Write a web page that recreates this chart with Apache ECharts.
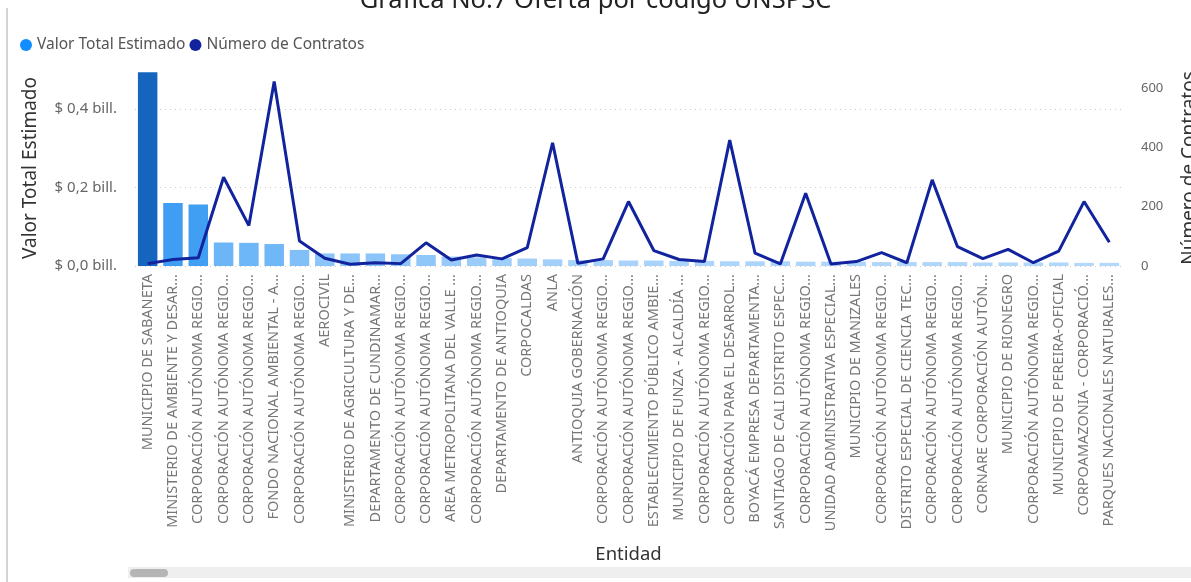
<!DOCTYPE html>
<html>
<head>
<meta charset="utf-8">
<script src="https://cdn.jsdelivr.net/npm/echarts@6/dist/echarts.min.js"></script>
<style>
html,body{margin:0;padding:0;background:#fff;}
#chart{width:1191px;height:582px;}
</style>
</head>
<body>
<div id="chart"></div>
<script>
const categories = [
  'MUNICIPIO DE SABANETA',
  'MINISTERIO DE AMBIENTE Y DESAR...',
  'CORPORACIÓN AUTÓNOMA REGIO...',
  'CORPORACIÓN AUTÓNOMA REGIO...',
  'CORPORACIÓN AUTÓNOMA REGIO...',
  'FONDO NACIONAL AMBIENTAL - A...',
  'CORPORACIÓN AUTÓNOMA REGIO...',
  'AEROCIVIL',
  'MINISTERIO DE AGRICULTURA Y DE...',
  'DEPARTAMENTO DE CUNDINAMAR...',
  'CORPORACIÓN AUTÓNOMA REGIO...',
  'CORPORACIÓN AUTÓNOMA REGIO...',
  'AREA METROPOLITANA DEL VALLE ...',
  'CORPORACIÓN AUTÓNOMA REGIO...',
  'DEPARTAMENTO DE ANTIOQUIA',
  'CORPOCALDAS',
  'ANLA',
  'ANTIOQUIA GOBERNACIÓN',
  'CORPORACIÓN AUTÓNOMA REGIO...',
  'CORPORACIÓN AUTÓNOMA REGIO...',
  'ESTABLECIMIENTO PÚBLICO AMBIE...',
  'MUNICIPIO DE FUNZA - ALCALDÍA ...',
  'CORPORACIÓN AUTÓNOMA REGIO...',
  'CORPORACIÓN PARA EL DESARROL...',
  'BOYACÁ EMPRESA DEPARTAMENTA...',
  'SANTIAGO DE CALI DISTRITO ESPEC...',
  'CORPORACIÓN AUTÓNOMA REGIO...',
  'UNIDAD ADMINISTRATIVA ESPECIAL...',
  'MUNICIPIO DE MANIZALES',
  'CORPORACIÓN AUTÓNOMA REGIO...',
  'DISTRITO ESPECIAL DE CIENCIA TEC...',
  'CORPORACIÓN AUTÓNOMA REGIO...',
  'CORPORACIÓN AUTÓNOMA REGIO...',
  'CORNARE CORPORACIÓN AUTÓN...',
  'MUNICIPIO DE RIONEGRO',
  'CORPORACIÓN AUTÓNOMA REGIO...',
  'MUNICIPIO DE PEREIRA-OFICIAL',
  'CORPOAMAZONIA - CORPORACIÓ...',
  'PARQUES NACIONALES NATURALES...'
];

// Valor Total Estimado (billones de pesos)
const valorTotal = [
  0.494, 0.161, 0.157, 0.060, 0.059, 0.056, 0.041, 0.032, 0.032, 0.032,
  0.030, 0.028, 0.024, 0.022, 0.020, 0.019, 0.017, 0.015, 0.015, 0.014,
  0.014, 0.013, 0.013, 0.012, 0.012, 0.012, 0.011, 0.011, 0.011, 0.010,
  0.010, 0.010, 0.010, 0.009, 0.009, 0.009, 0.009, 0.008, 0.008
];

// Número de Contratos
const numContratos = [
  8, 22, 28, 299, 136, 621, 84, 26, 6, 11,
  8, 78, 20, 37, 24, 62, 415, 9, 24, 217,
  52, 22, 15, 424, 43, 7, 245, 7, 15, 45,
  11, 290, 65, 25, 56, 11, 50, 217, 80
];

const leftTicks = [0, 0.2, 0.4];
const rightTicks = [0, 200, 400, 600];

const FONT = 'Noto Sans';

function hexToRgb(h){h=h.replace('#','');return [parseInt(h.substr(0,2),16),parseInt(h.substr(2,2),16),parseInt(h.substr(4,2),16)];}
const colorStops = [[0.008,'#B3D8FB'],[0.03,'#8DC5F9'],[0.06,'#6CB5F7'],[0.16,'#3F9EF3'],[0.494,'#1565BF']];
function barColor(v){
  if (v <= colorStops[0][0]) return colorStops[0][1];
  for (let i=1;i<colorStops.length;i++){
    if (v <= colorStops[i][0]){
      const [v0,c0]=colorStops[i-1],[v1,c1]=colorStops[i];
      const t=(v-v0)/(v1-v0);
      const a=hexToRgb(c0),b=hexToRgb(c1);
      return 'rgb('+a.map((x,k)=>Math.round(x+(b[k]-x)*t)).join(',')+')';
    }
  }
  return colorStops[colorStops.length-1][1];
}

const chart = echarts.init(document.getElementById('chart'));
chart.setOption({
  animation:false,
  backgroundColor:'#fff',
  textStyle:{fontFamily:FONT},
  title:{
    text:'Gráfica No.7 Oferta por código UNSPSC',
    left:'center', top:-17,
    textStyle:{fontFamily:FONT,fontSize:25.5,fontWeight:'normal',color:'#222'}
  },
  legend:{
    left:15, top:32,
    icon:'circle', itemWidth:12, itemHeight:12, itemGap:4,
    textStyle:{fontFamily:FONT,fontSize:15.5,color:'#555'},
    data:[
      {name:'Valor Total Estimado', itemStyle:{color:'#118DFF'}},
      {name:'Número de Contratos', itemStyle:{color:'#12239E'}}
    ]
  },
  grid:{left:135,right:69,top:70,bottom:316,containLabel:false,outerBoundsMode:'none'},
  xAxis:{
    type:'category',
    data:categories,
    name:'Entidad',
    nameLocation:'middle',
    nameGap:279,
    nameTextStyle:{fontFamily:FONT,fontSize:18.5,color:'#333'},
    axisLine:{show:false},
    axisTick:{show:false},
    axisLabel:{rotate:90,interval:0,fontSize:14.5,color:'#777',margin:8,fontFamily:FONT}
  },
  yAxis:[
    {
      type:'value', min:0, max:0.5, interval:0.2,
      name:'Valor Total Estimado',
      nameLocation:'middle', nameRotate:90, nameGap:95,
      nameTextStyle:{fontFamily:FONT,fontSize:19,color:'#333'},
      axisLine:{show:false}, axisTick:{show:false},
      axisLabel:{
        margin:18, fontSize:15, color:'#666', showMaxLabel:false,
        formatter:v=>leftTicks.some(t=>Math.abs(t-v)<1e-9)?('$ '+v.toFixed(1).replace('.',',')+' bill.'):''
      },
      splitLine:{show:true,showMaxLine:false,lineStyle:{type:[1,4],color:'#ccc',width:1}}
    },
    {
      type:'value', min:0, max:660, interval:200,
      name:'Número de Contratos',
      nameLocation:'middle', nameRotate:90, nameGap:58,
      nameTextStyle:{fontFamily:FONT,fontSize:19,color:'#333'},
      axisLine:{show:false}, axisTick:{show:false},
      axisLabel:{
        margin:19, fontSize:13, color:'#666', showMaxLabel:false,
        formatter:v=>rightTicks.indexOf(v)>=0?String(v):''
      },
      splitLine:{show:false}
    }
  ],
  series:[
    {
      name:'Valor Total Estimado',
      type:'bar',
      yAxisIndex:0,
      barCategoryGap:'23%',
      data:valorTotal.map(v=>({value:v,itemStyle:{color:barColor(v)}})),
      itemStyle:{color:'#118DFF'}
    },
    {
      name:'Número de Contratos',
      type:'line',
      yAxisIndex:1,
      data:numContratos,
      showSymbol:false,
      symbol:'none',
      lineStyle:{color:'#12239E',width:3},
      itemStyle:{color:'#12239E'}
    }
  ],
  graphic:[
    {type:'rect',left:6,top:8,shape:{width:2,height:574},style:{fill:'#d4d4d4'},silent:true},
    {type:'rect',left:128,top:567,shape:{width:1063,height:11},style:{fill:'#efefef'},silent:true},
    {type:'rect',left:130,top:569,shape:{width:38,height:8,r:4},style:{fill:'#b5b5b5'},silent:true}
  ]
});
</script>
</body>
</html>
